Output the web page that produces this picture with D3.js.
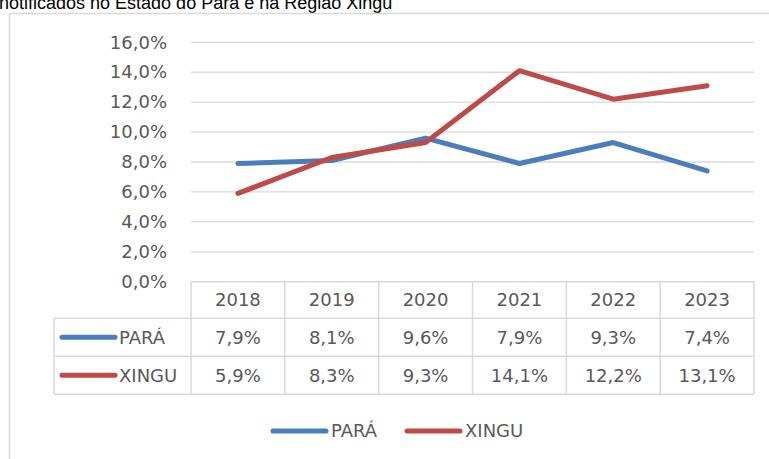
<!DOCTYPE html>
<html>
<head>
<meta charset="utf-8">
<script src="https://cdn.jsdelivr.net/npm/d3@7"></script>
<style>
  body { margin: 0; background: #fff; }
  svg { display: block; }
</style>
</head>
<body>
<div id="chart"></div>
<script>

var years = ["2018", "2019", "2020", "2021", "2022", "2023"];
var para = [7.9, 8.1, 9.6, 7.9, 9.3, 7.4];
var xingu = [5.9, 8.3, 9.3, 14.1, 12.2, 13.1];
var seriesNames = ["PARÁ", "XINGU"];
var seriesColors = ["#4a7ebb", "#be4b48"];
var yTicks = [0, 2, 4, 6, 8, 10, 12, 14, 16];

var width = 769, height = 459;
var grey = "#d9d9d9", textGrey = "#595959";
var tableFont = "'DejaVu Sans', sans-serif";

var svg = d3.select("#chart").append("svg")
  .attr("width", width)
  .attr("height", height);

var fmt = function(v) { return d3.format(".1f")(v).replace(".", ",") + "%"; };

// title, cut at the top of the picture like in the original
svg.append("text")
  .attr("x", -1)
  .attr("y", 8.5)
  .style("font-family", "'Liberation Sans', Arial, sans-serif")
  .style("font-size", "18px")
  .style("fill", "#000")
  .text("notificados no Estado do Pará e na Região Xingu");

// outer chart border
svg.append("rect")
  .attr("x", 9.5)
  .attr("y", 13.5)
  .attr("width", 800)
  .attr("height", 500)
  .attr("fill", "none")
  .attr("stroke", grey)
  .attr("stroke-width", 1.5);

var x = d3.scaleBand().domain(years).range([191, 754]);
var y = d3.scaleLinear().domain([0, 16]).range([281.7, 42.3]);

// gridlines
svg.append("g").selectAll("line").data(yTicks)
  .enter().append("line")
  .attr("x1", 191).attr("x2", 754)
  .attr("y1", function(d) { return y(d); })
  .attr("y2", function(d) { return y(d); })
  .attr("stroke", grey)
  .attr("stroke-width", 1.3);

// y tick labels
var yAxis = d3.axisLeft(y).tickValues(yTicks).tickSize(0).tickPadding(0)
  .tickFormat(fmt);
var ya = svg.append("g").attr("transform", "translate(167,0)").call(yAxis);
ya.select(".domain").remove();
ya.selectAll("text")
  .style("font-family", tableFont)
  .style("font-size", "18px")
  .style("fill", textGrey);

// lines
var series = [para, xingu];
var line = d3.line()
  .x(function(d, i) { return x(years[i]) + x.bandwidth() / 2; })
  .y(function(d) { return y(d); });

series.forEach(function(s, k) {
  svg.append("path")
    .datum(s)
    .attr("d", line)
    .attr("fill", "none")
    .attr("stroke", seriesColors[k])
    .attr("stroke-width", 5)
    .attr("stroke-linecap", "round")
    .attr("stroke-linejoin", "round");
});

// data table
var headTop = 281.7, rowH = [36.5, 38, 38];
var rowTop = [headTop, headTop + rowH[0], headTop + rowH[0] + rowH[1]];
var tableBottom = rowTop[2] + rowH[2];
var leftX = 54, rightX = 754;
var tbl = svg.append("g");

// horizontal lines
tbl.append("line").attr("x1", x(years[0])).attr("x2", rightX)
  .attr("y1", headTop).attr("y2", headTop);
[rowTop[1], rowTop[2], tableBottom].forEach(function(yy) {
  tbl.append("line").attr("x1", leftX).attr("x2", rightX)
    .attr("y1", yy).attr("y2", yy);
});
// vertical lines
tbl.append("line").attr("x1", leftX).attr("x2", leftX)
  .attr("y1", rowTop[1]).attr("y2", tableBottom);
years.forEach(function(yr) {
  tbl.append("line").attr("x1", x(yr)).attr("x2", x(yr))
    .attr("y1", headTop).attr("y2", tableBottom);
});
tbl.append("line").attr("x1", rightX).attr("x2", rightX)
  .attr("y1", headTop).attr("y2", tableBottom);
tbl.selectAll("line").attr("stroke", grey).attr("stroke-width", 1.5);

function cellText(tx, ty, t, anchor) {
  tbl.append("text")
    .attr("x", tx)
    .attr("y", ty)
    .attr("dy", "0.36em")
    .style("text-anchor", anchor || "middle")
    .style("font-family", tableFont)
    .style("font-size", "18px")
    .style("fill", textGrey)
    .text(t);
}

years.forEach(function(yr) {
  cellText(x(yr) + x.bandwidth() / 2, headTop + rowH[0] / 2, yr);
});

series.forEach(function(s, k) {
  var cy = rowTop[k + 1] + rowH[k + 1] / 2;
  tbl.append("line")
    .attr("x1", 62).attr("x2", 115)
    .attr("y1", cy).attr("y2", cy)
    .attr("stroke", seriesColors[k])
    .attr("stroke-width", 5)
    .attr("stroke-linecap", "round");
  cellText(119, cy, seriesNames[k], "start");
  s.forEach(function(v, i) {
    cellText(x(years[i]) + x.bandwidth() / 2, cy, fmt(v));
  });
});

// bottom legend
var legendX = [273, 407];
var leg = svg.append("g");
seriesNames.forEach(function(n, k) {
  leg.append("line")
    .attr("x1", legendX[k]).attr("x2", legendX[k] + 53)
    .attr("y1", 431).attr("y2", 431)
    .attr("stroke", seriesColors[k])
    .attr("stroke-width", 5)
    .attr("stroke-linecap", "round");
  leg.append("text")
    .attr("x", legendX[k] + 58)
    .attr("y", 431)
    .attr("dy", "0.36em")
    .style("font-family", tableFont)
    .style("font-size", "18px")
    .style("fill", textGrey)
    .text(n);
});

</script>
</body>
</html>
